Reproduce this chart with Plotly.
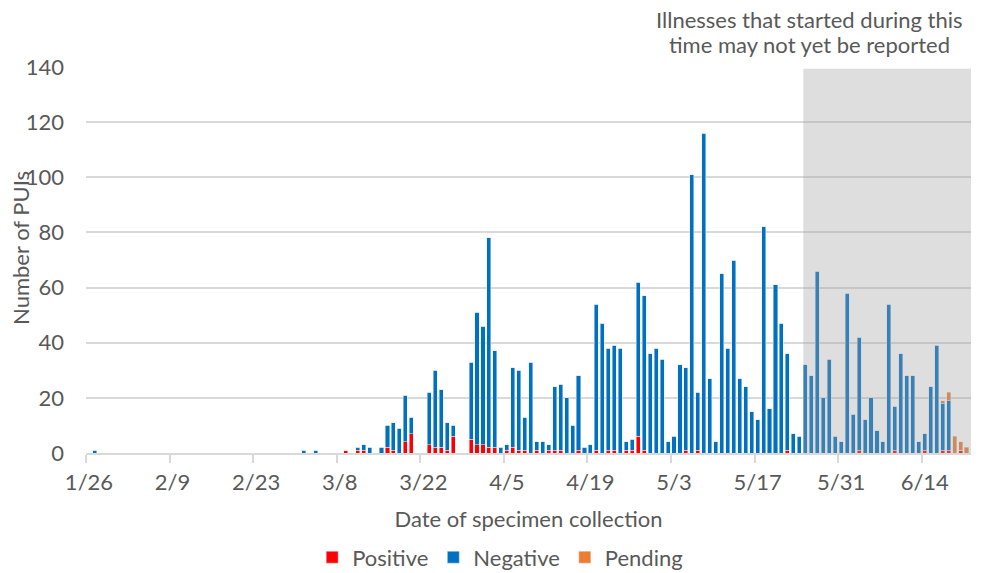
import plotly.graph_objects as go
import pandas as pd

start_date = "2020-01-26"
n_days = 148

negative = ([0, 1] + [0] * 34 +
            [1, 0, 1, 0, 0, 0, 0, 0, 0, 1, 2, 2, 0, 2,
             8, 10, 9, 17, 6, 0, 0, 19, 28, 21,
             10, 4, 0, 0, 28, 48, 43, 76, 35, 2,
             2, 29, 29, 12, 33, 3, 4, 2, 23, 24,
             20, 10, 27, 2, 3, 53, 47, 37, 38, 38,
             3, 4, 56, 56, 36, 38, 34, 4, 6, 32,
             30, 101, 21, 116, 27, 4, 65, 38, 70, 27,
             24, 15, 12, 82, 16, 61, 47, 35, 7, 6,
             32, 28, 66, 20, 34, 6, 4, 58, 14, 41,
             12, 20, 8, 4, 54, 16, 36, 28, 28, 4,
             6, 24, 39, 17, 18, 0, 0, 0])

positive = ([0] * 40 +
            [0, 0, 0, 1, 0, 1, 1, 0, 0, 0,
             2, 1, 0, 4, 7, 0, 0, 3, 2, 2,
             1, 6, 0, 0, 5, 3, 3, 2, 2, 0,
             1, 2, 1, 1, 0, 1, 0, 1, 1, 1,
             0, 0, 1, 0, 0, 1, 0, 1, 1, 0,
             1, 1, 6, 1, 0, 0, 0, 0, 0, 0,
             1, 0, 1, 0, 0, 0, 0, 0, 0, 0,
             0, 0, 0, 0, 0, 0, 0, 1, 0, 0,
             0, 0, 0, 0, 0, 0, 0, 0, 0, 1,
             0, 0, 0, 0, 0, 1, 0, 0, 0, 0,
             1, 0, 0, 1, 1, 0, 1, 0])

pending = [0] * 143 + [1, 3, 6, 3, 2]

tick_labels = ["1/26", "2/9", "2/23", "3/8", "3/22", "4/5", "4/19",
               "5/3", "5/17", "5/31", "6/14"]
shade_start = "2020-05-25"
note_lines = ["Illnesses that started during this", "time may not yet be reported"]

dates = pd.date_range(start_date, periods=n_days, freq="D")
tick_dates = [pd.Timestamp(f"2020-{t.split('/')[0]}-{t.split('/')[1]}") for t in tick_labels]
half = pd.Timedelta(hours=12)
x_start = dates[0] - half
x_end = dates[-1] + half + pd.Timedelta(hours=6)

FONT = "Lato"
GREY = "#595959"

fig = go.Figure()
fig.add_trace(go.Bar(x=dates, y=positive, name="Positive", marker_color="#FF0000"))
fig.add_trace(go.Bar(x=dates, y=negative, name="Negative", marker_color="#0070C0"))
fig.add_trace(go.Bar(x=dates, y=pending, name="Pending", marker_color="#ED7D31"))

bar_half = pd.Timedelta(hours=24 * 0.34)
fig.add_shape(type="rect", xref="x", yref="y",
              x0=pd.Timestamp(shade_start) - bar_half, x1=x_end,
              y0=0, y1=139.4, fillcolor="rgba(160,160,160,0.35)",
              line_width=0, layer="above")

for line, ypos in zip(note_lines, [1.122, 1.058]):
    fig.add_annotation(text=line, xref="paper", yref="paper",
                       x=0.818, y=ypos, xanchor="center", yanchor="middle",
                       showarrow=False, align="center",
                       font=dict(family=FONT, size=22, color=GREY))
fig.add_annotation(text="Number of PUIs", xref="paper", yref="paper",
                   x=-0.074, y=0.53, xanchor="center", yanchor="middle",
                   textangle=-90, showarrow=False,
                   font=dict(family=FONT, size=22, color=GREY))

fig.update_layout(
    width=987, height=573,
    margin=dict(l=86, r=16, t=67, b=120, autoexpand=False),
    paper_bgcolor="white", plot_bgcolor="white",
    barmode="stack", bargap=0.32,
    font=dict(family=FONT, size=22, color=GREY),
    showlegend=True,
    legend=dict(orientation="h", x=0.468, xanchor="center", y=-0.216, yanchor="top",
                font=dict(family=FONT, size=22, color=GREY),
                itemwidth=30, traceorder="normal"),
    xaxis=dict(
        type="date", range=[x_start, x_end], automargin=False,
        tickmode="array", tickvals=tick_dates, ticktext=tick_labels,
        ticks="", showgrid=False,
        showline=True, linecolor="#D9D9D9", linewidth=2,
        tickfont=dict(family=FONT, size=22, color=GREY),
        ticklabelstandoff=9,
        minor=dict(tickmode="array", tickvals=[d - half for d in tick_dates],
                   ticks="outside", ticklen=8, tickcolor="#D9D9D9", tickwidth=2,
                   showgrid=False),
        title=dict(text="Date of specimen collection", standoff=17,
                   font=dict(family=FONT, size=22, color=GREY)),
    ),
    yaxis=dict(
        range=[0, 140], tickmode="linear", tick0=0, dtick=20, automargin=False,
        showgrid=True, gridcolor="#D9D9D9", gridwidth=2,
        zeroline=False, showline=False, ticks="",
        tickfont=dict(family=FONT, size=22, color=GREY),
        ticklabelstandoff=21,
    ),
)

fig.write_html("out.html", config={"displayModeBar": False},
               post_script="document.body.style.margin='0px';")
